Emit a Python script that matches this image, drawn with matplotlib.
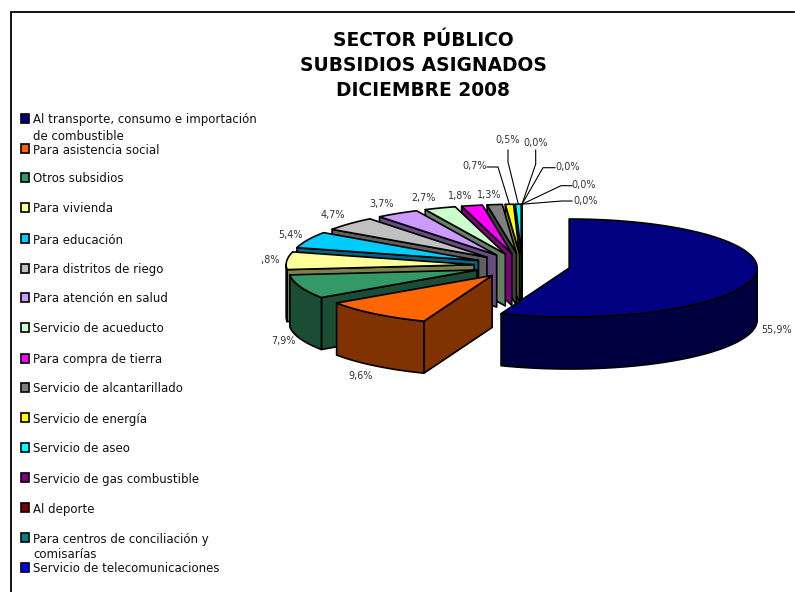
"""
Sector publico - subsidios asignados, diciembre 2008 (exploded 3D pie, Excel style)
"""

import numpy as np
import matplotlib
matplotlib.use("Agg")
import matplotlib.pyplot as plt
from matplotlib.patches import Polygon, Rectangle

categories = ["Al transporte, consumo e importación\nde combustible", "Para asistencia social", "Otros subsidios",
	"Para vivienda", "Para educación", "Para distritos de riego", "Para atención en salud",
	"Servicio de acueducto", "Para compra de tierra", "Servicio de alcantarillado", "Servicio de energía",
	"Servicio de aseo", "Servicio de gas combustible", "Al deporte",
	"Para centros de conciliación y\ncomisarías", "Servicio de telecomunicaciones"]
values = [55.9, 9.6, 7.9, 5.8, 5.4, 4.7, 3.7, 2.7, 1.8, 1.3, 0.7, 0.5, 0.0, 0.0, 0.0, 0.0]
colors = ["#000080", "#FF6600", "#339966", "#FFFF99", "#00CCFF", "#C0C0C0", "#CC99FF", "#CCFFCC",
	"#FF00FF", "#808080", "#FFFF00", "#00FFFF", "#800080", "#800000", "#008080", "#0000FF"]
title = "SECTOR PÚBLICO\nSUBSIDIOS ASIGNADOS\nDICIEMBRE 2008"

# layout, in pixels of the final picture
legend_y = [119, 149, 178, 208, 239, 269, 298, 328, 359, 388, 418, 448, 478, 508, 538, 568]
label_xy = [(777, 330), (361, 376), (284, 341), (268, 260), (291, 235), (333, 215), (382, 204), (424, 198),
	(460, 196), (489, 195), (475, 166), (508, 140), (536, 143), (568, 167), (584, 185), (586, 201)]
# label index -> elbow points of the leader line
leaders = {10: [(487, 167), (498, 167)], 11: [(508, 150), (508, 162)], 12: [(535.7, 150), (535.7, 164)],
	13: [(555, 167.7), (543, 167.7)], 14: [(572, 185.7), (561, 185.7)], 15: [(572, 201), (562, 201)]}

cx, cy = 522.0, 265.7
rx, ry = 188.0, 49.0
explode = 48.0
depth = 52.0

fontname = "DejaVu Sans"

fig = plt.figure(figsize=(7.95, 5.92), dpi=100)
ax = fig.add_axes([0, 0, 1, 1])
ax.set_xlim(0, 795)
ax.set_ylim(592, 0)
ax.axis("off")

# frame: only top and left are visible in the crop
ax.plot([11, 11, 794], [592, 12, 12], color="black", lw=1.3, solid_joinstyle="miter", zorder=1)


def darker(col):
	return tuple(0.5 * c for c in matplotlib.colors.to_rgb(col))


def point(apex, ang):
	# ang in degrees, clockwise from 12 o'clock
	a = np.radians(ang)
	return np.column_stack((apex[0] + rx * np.sin(a), apex[1] - ry * np.cos(a)))


edges = np.concatenate(([0.0], np.cumsum(values))) / np.sum(values) * 360.0
tips = []

for i in reversed(range(len(values))):
	a0, a1 = edges[i], edges[i + 1]
	mid = np.radians(0.5 * (a0 + a1))
	apex = (cx + explode * np.sin(mid), cy - explode * ry / rx * np.cos(mid))
	arc = point(apex, np.linspace(a0, a1, 80))
	tips.insert(0, arc[len(arc) // 2])
	kw = dict(ec="black", lw=1.2, joinstyle="round")
	side = darker(colors[i])

	# radial wall on the lower edge (not for the big slice, it faces away)
	if i != 0:
		p = arc[0]
		ax.add_patch(Polygon([apex, p, (p[0], p[1] + depth), (apex[0], apex[1] + depth)], fc=side, zorder=2 + 16 - i, **kw))

	# outer wall, only the part turned to the viewer
	front = np.linspace(max(a0, 90.0), min(a1, 270.0), 80)
	if front[-1] > front[0]:
		f = point(apex, front)
		wall = np.vstack((f, (f + [0, depth])[::-1]))
		ax.add_patch(Polygon(wall, fc=side, zorder=2 + 16 - i, **kw))

	ax.add_patch(Polygon(np.vstack(([apex], arc)), fc=colors[i], zorder=2 + 16 - i, **kw))

for i, (x, y) in enumerate(label_xy):
	ax.text(x, y, ("%.1f%%" % values[i]).replace(".", ","), ha="center", va="center", fontsize=6.9, color="#333333", family=fontname, zorder=30)
	if i in leaders:
		pts = leaders[i] + [(min(tips[i][0], 522), tips[i][1])]
		ax.plot(*zip(*pts), color="black", lw=0.8, zorder=29)

# the legend box hides the first digit of the 5,8% label
ax.add_patch(Rectangle((250, 250), 10.5, 20, fc="white", ec="none", zorder=31))

for name, y, col in zip(categories, legend_y, colors):
	ax.add_patch(Rectangle((21, y - 5), 8, 8.5, fc=col, ec="black", lw=1.2, zorder=5))
	ax.text(33, y - 5.5, name, ha="left", va="top", fontsize=8.5, color="#111111", family=fontname, linespacing=1.3, zorder=5)

ax.text(423, 65.5, title, ha="center", va="center", fontsize=13.4, fontweight="bold", color="black", family=fontname, linespacing=1.38)

fig.savefig("out.png", dpi=100)
